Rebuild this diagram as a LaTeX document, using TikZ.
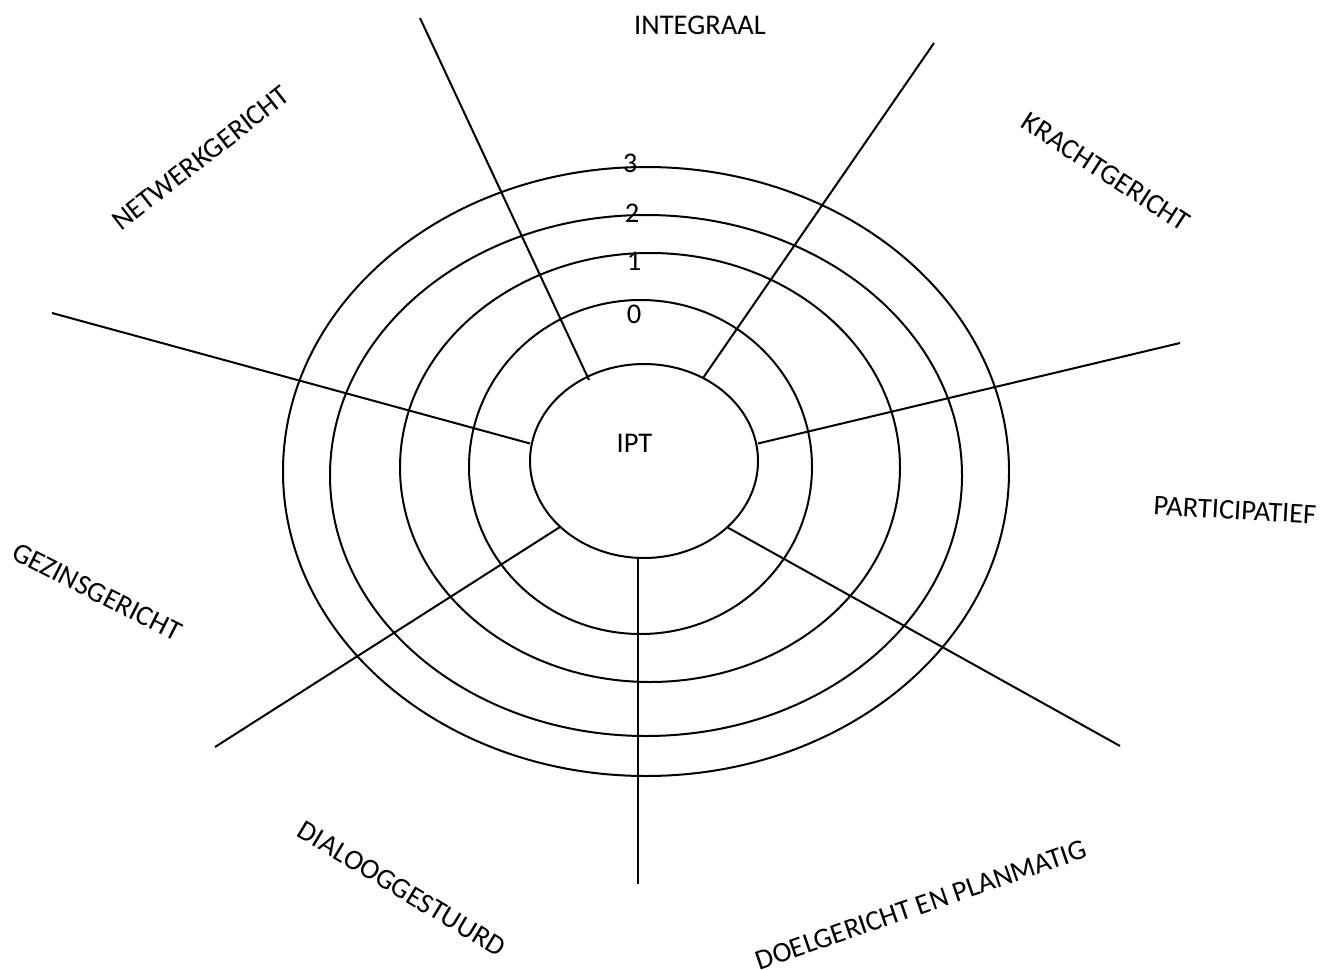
\documentclass[tikz,border=0pt]{standalone}
\usepackage{fontspec}
\setmainfont{Carlito}
\begin{document}
\begin{tikzpicture}[x=0.75pt,y=0.75pt,
  ring/.style={line width=1.5pt},
  spoke/.style={line width=1.5pt},
  lbl/.style={font=\fontsize{21.4}{25}\selectfont, inner sep=0pt, anchor=center}]
\useasboundingbox (0,0) rectangle (1334,-970);

% concentric rings around the core
\draw[ring] (644,-461) ellipse [x radius=114, y radius=97];
\draw[ring] (640.5,-467) ellipse [x radius=171.5, y radius=167];
\draw[ring] (650,-467.5) ellipse [x radius=250, y radius=214.5];
\draw[ring] (646,-475.5) ellipse [x radius=316, y radius=260.5];
\draw[ring] (646,-471.5) ellipse [x radius=363, y radius=304.5];

% spoke end points
\coordinate (nwA) at (589,-380);   \coordinate (nwB) at (420,-18);
\coordinate (neA) at (703,-378);   \coordinate (neB) at (934,-43);
\coordinate (eA)  at (758,-443.5); \coordinate (eB)  at (1180,-343);
\coordinate (seA) at (728,-527.7); \coordinate (seB) at (1120,-746);
\coordinate (sA)  at (638,-558);   \coordinate (sB)  at (638,-884);
\coordinate (swA) at (560,-527);   \coordinate (swB) at (215,-747);
\coordinate (wA)  at (530,-443.5); \coordinate (wB)  at (52,-313);

\draw[spoke] (nwA) -- (nwB);
\draw[spoke] (neA) -- (neB);
\draw[spoke] (eA) -- (eB);
\draw[spoke] (seA) -- (seB);
\draw[spoke] (sA) -- (sB);
\draw[spoke] (swA) -- (swB);
\draw[spoke] (wA) -- (wB);

% scale numbers
\node[lbl] (s3) at (630,-163) {3};
\node[lbl] (s2) at (632,-213) {2};
\node[lbl] (s1) at (634,-261) {1};
\node[lbl] (s0) at (634,-314) {0};

% centre
\node[lbl] (ipt) at (634.5,-443.5) {IPT};

% dimension labels
\node[lbl] (integraal) at (700,-25) {INTEGRAAL};
\node[lbl, rotate=38] (netwerk) at (201,-158) {NETWERKGERICHT};
\node[lbl, rotate=-33] (kracht) at (1106,-172) {KRACHTGERICHT};
\node[lbl, rotate=-3.3] (partic) at (1235,-510) {PARTICIPATIEF};
\node[lbl, rotate=-27] (gezin) at (97,-592) {GEZINSGERICHT};
\node[lbl, rotate=-31] (dialoog) at (402,-889) {DIALOOGGESTUURD};
\node[lbl, rotate=19] (doel) at (921,-905) {DOELGERICHT EN PLANMATIG};
\end{tikzpicture}
\end{document}
